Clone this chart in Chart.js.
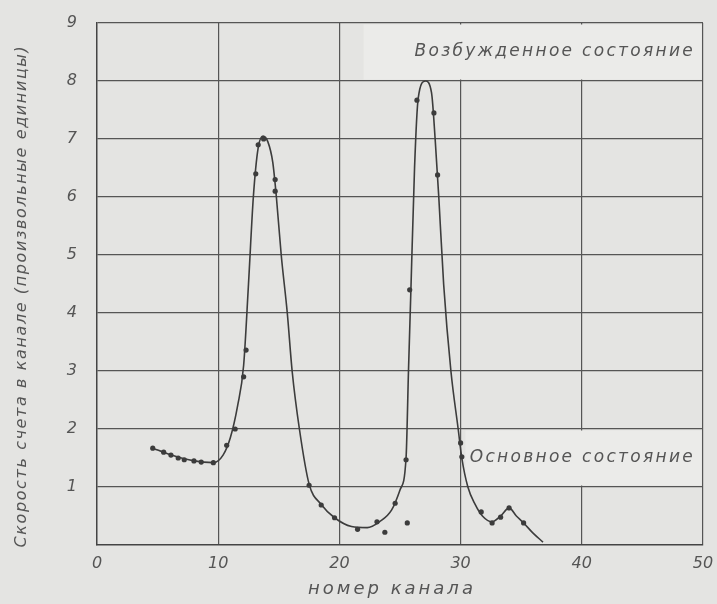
<!DOCTYPE html>
<html>
<head>
<meta charset="utf-8">
<script src="https://cdn.jsdelivr.net/npm/chart.js@4"></script>
<style>
  html, body { margin: 0; padding: 0; background: #e4e4e2; }
  canvas { display: block; }
</style>
</head>
<body>
<canvas id="chart" width="717" height="604"></canvas>
<script>
// measured points (channel, count rate)
const pointX = [4.6, 5.5, 6.1, 6.7, 7.2, 8.0, 8.6, 9.6, 10.7, 11.4, 12.1, 12.3, 13.1, 13.3, 13.75, 14.7, 14.7,
  17.5, 18.5, 19.6, 21.5, 23.1, 23.75, 24.6, 25.6, 25.5, 25.8, 26.4, 27.8, 28.1, 30.0, 30.1,
  31.7, 32.6, 33.3, 34.0, 35.2];
const pointY = [1.67, 1.6, 1.55, 1.5, 1.47, 1.45, 1.43, 1.42, 1.72, 2.0, 2.9, 3.36, 6.4, 6.9, 7.0, 6.3, 6.1,
  1.03, 0.69, 0.47, 0.27, 0.4, 0.22, 0.72, 0.38, 1.47, 4.4, 7.67, 7.45, 6.38, 1.76, 1.52,
  0.57, 0.38, 0.48, 0.64, 0.38];

// hand-drawn smooth curve through the points
const curveX = [4.6, 6.0, 8.0, 9.6, 10.4, 11.0, 11.6, 12.1, 12.5, 12.9, 13.3, 13.7, 14.1, 14.5, 14.8, 15.2, 15.7,
  16.1, 16.7, 17.5, 18.5, 19.6, 21.0, 22.3, 23.3, 24.3, 25.0, 25.5, 25.7, 25.9, 26.2, 26.5, 27.1, 27.6, 27.9,
  28.2, 28.6, 29.2, 29.8, 30.1, 30.6, 31.2, 31.8, 32.6, 33.3, 34.0, 34.6, 35.2, 36.0, 36.8];
const curveY = [1.67, 1.56, 1.45, 1.42, 1.55, 1.85, 2.4, 3.1, 4.5, 6.0, 6.85, 7.05, 6.95, 6.6, 6.0, 5.0, 4.0,
  3.0, 2.0, 1.05, 0.7, 0.47, 0.32, 0.3, 0.4, 0.6, 0.95, 1.5, 3.0, 4.4, 6.5, 7.7, 8.0, 7.8, 7.0,
  6.0, 4.5, 3.0, 2.0, 1.5, 1.0, 0.7, 0.5, 0.4, 0.5, 0.64, 0.5, 0.38, 0.2, 0.05];

const xTicks = [0, 10, 20, 30, 40, 50];
const yTicks = [1, 2, 3, 4, 5, 6, 7, 8, 9];

const xTitle = "номер канала";
const yTitle = "Скорость счета в канале (произвольные единицы)";

// label boxes: [text, xFrom, xTo, yFrom, yTo]
const labels = [
  ["Возбужденное состояние", 22, 50, 8, 9],
  ["Основное состояние", 30.4, 50, 1, 2]
];

const ink = "#3c3c3c";
const font = { family: "DejaVu Sans", style: "italic", size: 16 };

const labelPlugin = {
  id: "stateLabels",
  beforeDatasetsDraw(chart) {
    const { ctx, scales: { x, y } } = chart;
    ctx.save();
    labels.forEach(([text, x0, x1, y0, y1]) => {
      const l = x.getPixelForValue(x0), r = x.getPixelForValue(x1);
      const t = y.getPixelForValue(y1), b = y.getPixelForValue(y0);
      ctx.fillStyle = "#ebebe9";
      ctx.fillRect(l, t + 1.5, r - l - 1.5, b - t - 3);
      ctx.fillStyle = "#555";
      ctx.font = "italic 17px 'DejaVu Sans'";
      ctx.letterSpacing = "2.3px";
      ctx.textAlign = "right";
      ctx.textBaseline = "middle";
      ctx.fillText(text, r - 8, (t + b) / 2);
    });
    ctx.restore();
  },
  afterDraw(chart) {
    // axis titles, drawn by hand to get the wide lettering of the original
    const { ctx } = chart;
    ctx.save();
    ctx.fillStyle = "#555";
    ctx.textAlign = "center";
    ctx.textBaseline = "middle";
    ctx.font = "italic 18px 'DejaVu Sans'";
    ctx.letterSpacing = "3px";
    ctx.fillText(xTitle, 392, 589);
    ctx.translate(22, 296);
    ctx.rotate(-Math.PI / 2);
    ctx.font = "italic 16px 'DejaVu Sans'";
    ctx.letterSpacing = "1.6px";
    ctx.fillText(yTitle, 0, 0);
    ctx.restore();
  }
};

new Chart(document.getElementById("chart"), {
  type: "scatter",
  data: {
    datasets: [
      {
        data: curveX.map((v, i) => ({ x: v, y: curveY[i] })),
        showLine: true,
        borderColor: ink,
        borderWidth: 1.6,
        pointRadius: 0,
        cubicInterpolationMode: "monotone"
      },
      {
        data: pointX.map((v, i) => ({ x: v, y: pointY[i] })),
        showLine: false,
        pointRadius: 2.6,
        pointBackgroundColor: ink,
        pointBorderWidth: 0
      }
    ]
  },
  options: {
    responsive: false,
    animation: false,
    layout: { padding: { top: 23, right: 14, left: 0, bottom: 0 } },
    plugins: { legend: { display: false }, tooltip: { enabled: false } },
    scales: {
      x: {
        type: "linear",
        min: 0,
        max: 50,
        afterBuildTicks: (s) => { s.ticks = xTicks.map(v => ({ value: v })); },
        afterFit: (s) => { s.height = 59; s.paddingLeft = 0; s.paddingRight = 0; },
        grid: { color: "#555", lineWidth: 1.2, drawTicks: false },
        border: { color: "#444", width: 1.4 },
        ticks: { color: "#555", font: font, padding: 9, maxRotation: 0 }
      },
      y: {
        type: "linear",
        min: 0,
        max: 9,
        afterBuildTicks: (s) => { s.ticks = yTicks.map(v => ({ value: v })); },
        afterFit: (s) => { s.width = 97; s.paddingTop = 0; s.paddingBottom = 0; },
        grid: { color: "#555", lineWidth: 1.2, drawTicks: false },
        border: { color: "#444", width: 1.4 },
        ticks: { color: "#555", font: font, padding: 20 }
      }
    }
  },
  plugins: [labelPlugin]
});
</script>
</body>
</html>
